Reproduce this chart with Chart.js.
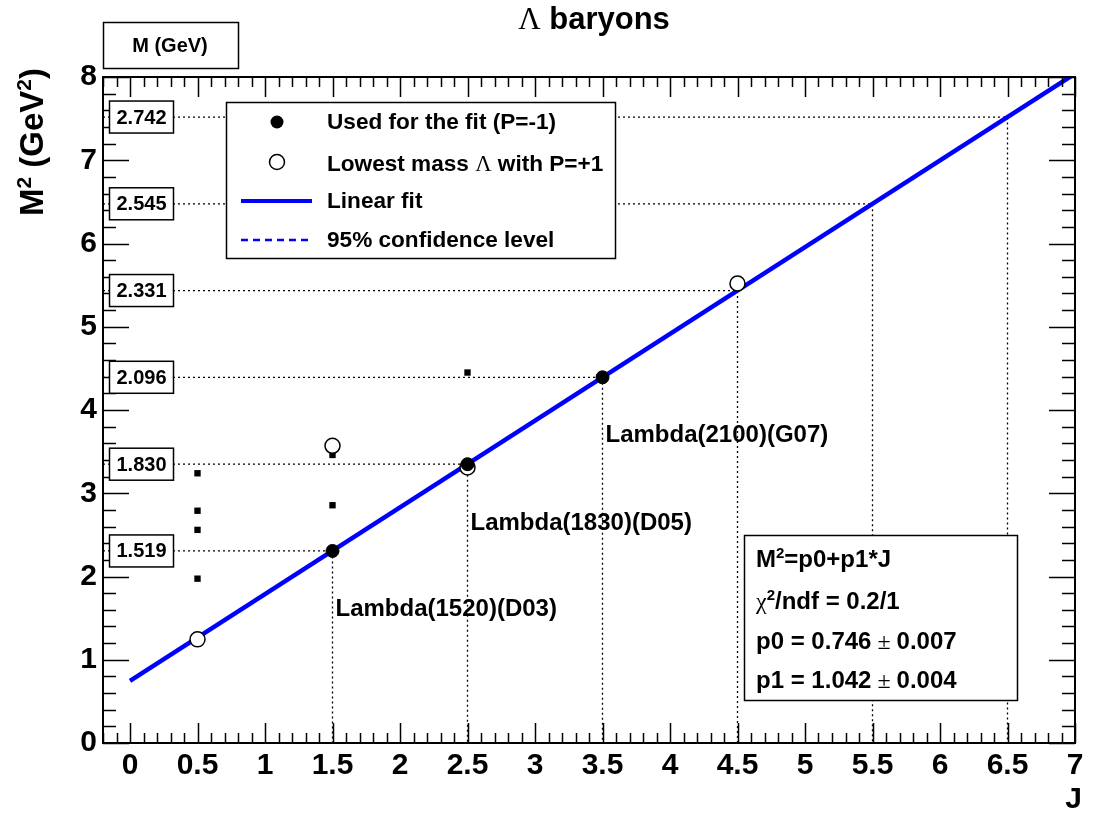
<!DOCTYPE html>
<html>
<head>
<meta charset="utf-8">
<script src="https://cdn.jsdelivr.net/npm/chart.js@4"></script>
<style>
  body { margin: 0; background: #fff; }
  #wrap { width: 1101px; height: 813px; }
</style>
</head>
<body>
<div id="wrap"><canvas id="chartRegge"></canvas></div>
<script>
// values (J, M^2 in GeV^2)
const usedJ = [1.5, 2.5, 3.5];
const usedM2 = [2.307, 3.349, 4.393];
const usedNames = ["Lambda(1520)(D03)", "Lambda(1830)(D05)", "Lambda(2100)(G07)"];
const nameM2 = [1.61, 2.64, 3.70];

const plusJ = [0.5, 1.5, 2.5, 4.5];
const plusM2 = [1.245, 3.57, 3.31, 5.52];

const otherJ = [0.5, 0.5, 0.5, 0.5, 1.5, 1.5, 2.5];
const otherM2 = [3.24, 2.79, 2.56, 1.974, 2.856, 3.46, 4.45];

const fitJ = [0, 7];
const fitM2 = [0.746, 8.04];

const guideJ = [1.5, 2.5, 3.5, 4.5, 5.5, 6.5];
const guideM2 = [2.307, 3.349, 4.393, 5.435, 6.477, 7.519];
const massLabels = ["1.519", "1.830", "2.096", "2.331", "2.545", "2.742"];

const xTicks = [0, 0.5, 1, 1.5, 2, 2.5, 3, 3.5, 4, 4.5, 5, 5.5, 6, 6.5, 7];
const yTicks = [0, 1, 2, 3, 4, 5, 6, 7, 8];

const SANS = "'Liberation Sans', Arial, sans-serif";
const SERIF = "'Liberation Serif', 'Times New Roman', serif";
const BLUE = "#0000ff";

// text made of pieces (for superscripts and greek symbols)
function richWidth(ctx, parts) {
  let w = 0;
  parts.forEach(p => { ctx.font = p.font; w += ctx.measureText(p.t).width; });
  return w;
}
function drawRich(ctx, parts, x, y) {
  ctx.textAlign = "left";
  ctx.textBaseline = "alphabetic";
  parts.forEach(p => {
    ctx.font = p.font;
    ctx.fillText(p.t, x, y - (p.up || 0));
    x += ctx.measureText(p.t).width;
  });
}

function xy(js, ms) {
  return js.map((j, i) => ({ x: j, y: ms[i] }));
}

const guideSets = guideJ.map((j, i) => ({
  label: "guide " + massLabels[i],
  type: "line",
  data: [{ x: -0.2, y: guideM2[i] }, { x: j, y: guideM2[i] }, { x: j, y: 0 }],
  borderColor: "#000",
  borderWidth: 1.3,
  borderDash: [2, 3],
  pointRadius: 0,
  fill: false
}));

const rootLook = {
  id: "rootLook",
  afterDatasetsDraw(chart) {
    const { ctx, chartArea: a, scales: { x, y } } = chart;
    ctx.save();
    ctx.fillStyle = "#000";
    ctx.strokeStyle = "#000";

    // inward ticks on all four sides
    ctx.lineWidth = 1.5;
    ctx.beginPath();
    for (let i = -2; i <= 70; i++) {
      const px = Math.round(x.getPixelForValue(i / 10)) + 0.5;
      const len = i % 5 === 0 ? 20 : 10;
      ctx.moveTo(px, a.bottom); ctx.lineTo(px, a.bottom - len);
      ctx.moveTo(px, a.top); ctx.lineTo(px, a.top + len);
    }
    for (let i = 0; i <= 40; i++) {
      const py = Math.round(y.getPixelForValue(i / 5)) + 0.5;
      const len = i % 5 === 0 ? 26 : 13;
      ctx.moveTo(a.left, py); ctx.lineTo(a.left + len, py);
      ctx.moveTo(a.right, py); ctx.lineTo(a.right - len, py);
    }
    ctx.stroke();
    ctx.lineWidth = 2;
    ctx.strokeRect(a.left, a.top, a.right - a.left, a.bottom - a.top);

    // mass boxes on the left
    ctx.lineWidth = 1.5;
    ctx.font = "bold 20px " + SANS;
    ctx.textAlign = "center";
    ctx.textBaseline = "middle";
    guideM2.forEach((m, i) => {
      const py = y.getPixelForValue(m);
      ctx.fillStyle = "#fff";
      ctx.fillRect(109, py - 16, 64, 32);
      ctx.strokeRect(109.5, py - 16, 64, 32);
      ctx.fillStyle = "#000";
      ctx.fillText(massLabels[i], 141.5, py + 1);
    });

    // state names
    ctx.font = "bold 24px " + SANS;
    ctx.textAlign = "left";
    usedNames.forEach((n, i) => {
      ctx.fillText(n, x.getPixelForValue(usedJ[i]) + 3, y.getPixelForValue(nameM2[i]));
    });

    // legend
    ctx.fillStyle = "#fff";
    ctx.fillRect(226, 102, 389, 156);
    ctx.strokeRect(226.5, 102.5, 389, 156);
    ctx.fillStyle = "#000";
    const legY = [122, 162, 201, 240];
    const legText = ["Used for the fit (P=-1)", null, "Linear fit", "95% confidence level"];
    ctx.beginPath(); ctx.arc(277, legY[0], 6.5, 0, Math.PI * 2); ctx.fill();
    ctx.beginPath(); ctx.arc(277, legY[1], 7.5, 0, Math.PI * 2);
    ctx.fillStyle = "#fff"; ctx.fill(); ctx.stroke(); ctx.fillStyle = "#000";
    ctx.strokeStyle = BLUE;
    ctx.lineWidth = 4;
    ctx.beginPath(); ctx.moveTo(241, legY[2]); ctx.lineTo(312, legY[2]); ctx.stroke();
    ctx.lineWidth = 2.5;
    ctx.setLineDash([7, 5]);
    ctx.beginPath(); ctx.moveTo(241, legY[3]); ctx.lineTo(312, legY[3]); ctx.stroke();
    ctx.setLineDash([]);
    ctx.strokeStyle = "#000";
    ctx.font = "bold 22.6px " + SANS;
    ctx.textBaseline = "middle";
    [0, 2, 3].forEach(k => ctx.fillText(legText[k], 327, legY[k] + 1));
    ctx.textBaseline = "alphabetic";
    drawRich(ctx, [
      { t: "Lowest mass ", font: "bold 22.6px " + SANS },
      { t: "\u039B", font: "22.6px " + SERIF },
      { t: " with P=+1", font: "bold 22.6px " + SANS }
    ], 327, legY[1] + 9);

    // fit result box
    ctx.lineWidth = 1.5;
    ctx.fillStyle = "#fff";
    ctx.fillRect(744, 535, 273, 165);
    ctx.strokeRect(744.5, 535.5, 273, 165);
    ctx.fillStyle = "#000";
    const b = "bold 24px " + SANS;
    const sup = "bold 15px " + SANS;
    drawRich(ctx, [{ t: "M", font: b }, { t: "2", font: sup, up: 9 }, { t: "=p0+p1*J", font: b }], 756, 567);
    drawRich(ctx, [{ t: "\u03C7", font: "24px " + SERIF }, { t: "2", font: sup, up: 9 }, { t: "/ndf = 0.2/1", font: b }], 756, 609);
    drawRich(ctx, [{ t: "p0 = 0.746", font: b }, { t: " \u00B1 ", font: "24px " + SERIF }, { t: "0.007", font: b }], 756, 649);
    drawRich(ctx, [{ t: "p1 = 1.042", font: b }, { t: " \u00B1 ", font: "24px " + SERIF }, { t: "0.004", font: b }], 756, 688);

    // M (GeV) box
    ctx.fillStyle = "#fff";
    ctx.fillRect(103, 22, 135, 46);
    ctx.strokeRect(103.5, 22.5, 135, 46);
    ctx.fillStyle = "#000";
    ctx.font = "bold 20px " + SANS;
    ctx.textAlign = "center";
    ctx.textBaseline = "middle";
    ctx.fillText("M (GeV)", 170, 46);

    // title
    const tParts = [{ t: "\u039B", font: "31px " + SERIF }, { t: " baryons", font: "bold 31px " + SANS }];
    drawRich(ctx, tParts, 594 - richWidth(ctx, tParts) / 2, 29);

    // axis titles
    ctx.font = "bold 30px " + SANS;
    ctx.textAlign = "right";
    ctx.textBaseline = "alphabetic";
    ctx.fillText("J", 1082, 808);

    const yParts = [
      { t: "M", font: "bold 33px " + SANS }, { t: "2", font: "bold 21px " + SANS, up: 12 },
      { t: " (GeV", font: "bold 33px " + SANS }, { t: "2", font: "bold 21px " + SANS, up: 12 },
      { t: ")", font: "bold 33px " + SANS }
    ];
    ctx.translate(43, 68);
    ctx.rotate(-Math.PI / 2);
    drawRich(ctx, yParts, -richWidth(ctx, yParts), 0);
    ctx.restore();
  }
};

new Chart(document.getElementById("chartRegge"), {
  type: "scatter",
  data: {
    datasets: [
      {
        label: "Used for the fit (P=-1)",
        data: xy(usedJ, usedM2),
        pointStyle: "circle",
        pointRadius: 6.5,
        backgroundColor: "#000",
        borderColor: "#000",
        borderWidth: 1
      },
      {
        label: "Lowest mass with P=+1",
        data: xy(plusJ, plusM2),
        pointStyle: "circle",
        pointRadius: 7.5,
        backgroundColor: "#fff",
        borderColor: "#000",
        borderWidth: 1.5
      },
      {
        label: "Other states",
        data: xy(otherJ, otherM2),
        pointStyle: "rect",
        pointRadius: 4.5,
        backgroundColor: "#000",
        borderColor: "#000",
        borderWidth: 0
      },
      {
        label: "Linear fit",
        type: "line",
        data: xy(fitJ, fitM2),
        borderColor: BLUE,
        borderWidth: 4.5,
        pointRadius: 0,
        fill: false
      },
      ...guideSets
    ]
  },
  options: {
    responsive: true,
    maintainAspectRatio: false,
    animation: false,
    events: [],
    layout: { padding: { left: 0, top: 77, right: 26, bottom: 0 } },
    plugins: {
      legend: { display: false },
      title: { display: false },
      tooltip: { enabled: false }
    },
    scales: {
      x: {
        type: "linear",
        min: -0.2,
        max: 7,
        afterBuildTicks: s => { s.ticks = xTicks.map(v => ({ value: v })); },
        afterFit: s => { s.height = 70; },
        grid: { display: false, drawTicks: false },
        border: { display: false },
        ticks: {
          color: "#000",
          padding: 5,
          maxRotation: 0,
          autoSkip: false,
          font: { family: SANS, size: 30, weight: "bold" },
          callback: v => String(v)
        }
      },
      y: {
        type: "linear",
        min: 0,
        max: 8,
        afterBuildTicks: s => { s.ticks = yTicks.map(v => ({ value: v })); },
        afterFit: s => { s.width = 103; },
        grid: { display: false, drawTicks: false },
        border: { display: false },
        ticks: {
          color: "#000",
          padding: 6,
          autoSkip: false,
          font: { family: SANS, size: 30, weight: "bold" },
          callback: v => String(v)
        }
      }
    }
  },
  plugins: [rootLook]
});
</script>
</body>
</html>
